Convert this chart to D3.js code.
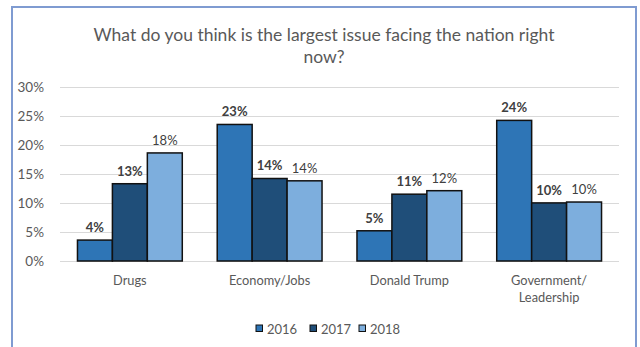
<!DOCTYPE html>
<html>
<head>
<meta charset="utf-8">
<script src="https://cdn.jsdelivr.net/npm/d3@7"></script>
<style>
  html, body { margin: 0; padding: 0; background: #fff; }
  svg { display: block; }
</style>
</head>
<body>
<div id="hook-chart"></div>
<script>
'use strict';

var categories = ['Drugs', 'Economy/Jobs', 'Donald Trump', 'Government/\nLeadership'];
var years = ['2016', '2017', '2018'];
var values2016 = [3.6, 23.5, 5.2, 24.2];
var values2017 = [13.3, 14.2, 11.5, 10.0];
var values2018 = [18.6, 13.8, 12.1, 10.15];
var labels2016 = ['4%', '23%', '5%', '24%'];
var labels2017 = ['13%', '14%', '11%', '10%'];
var labels2018 = ['18%', '14%', '12%', '10%'];
var yTicks = [0, 5, 10, 15, 20, 25, 30];

var options = {
  width: 640,
  height: 347,
  font: 'Lato, "Open Sans", sans-serif',
  colors: ['#2E75B6', '#1F4E79', '#7DAEDD'],
  textColor: '#595959'
};

var series = [
  { year: years[0], values: values2016, labels: labels2016, bold: true },
  { year: years[1], values: values2017, labels: labels2017, bold: true },
  { year: years[2], values: values2018, labels: labels2018, bold: false }
];

var margin = { top: 86.7, left: 60, right: 21, bottom: 86 };

var svg = d3.select('#hook-chart')
  .append('svg')
  .attr('width', options.width)
  .attr('height', options.height)
  .style('font-family', options.font);

// chart frame (bottom edge is outside the picture)
svg.append('path')
  .attr('d', 'M12,' + (options.height + 5) + 'V7H636V' + (options.height + 5))
  .style('fill', 'none')
  .style('stroke', '#7F9BD1')
  .style('stroke-width', 2);

var title = svg.append('text')
  .attr('text-anchor', 'middle')
  .style('font-size', '17.5px')
  .style('fill', options.textColor);
title.append('tspan').attr('x', 324).attr('y', 41).text('What do you think is the largest issue facing the nation right');
title.append('tspan').attr('x', 324).attr('y', 63).text('now?');

var x0 = d3.scaleBand()
  .domain(categories)
  .range([margin.left, options.width - margin.right])
  .paddingInner(0.25)
  .paddingOuter(0.125);

var x1 = d3.scaleBand()
  .domain(years)
  .range([0, x0.bandwidth()]);

var y = d3.scaleLinear()
  .domain([0, 30])
  .range([261, margin.top]);

// gridlines
svg.append('g')
  .selectAll('line')
  .data(yTicks)
  .enter()
  .append('line')
  .attr('x1', margin.left)
  .attr('x2', options.width - margin.right)
  .attr('y1', function(d) { return Math.round(y(d)) + 0.5; })
  .attr('y2', function(d) { return Math.round(y(d)) + 0.5; })
  .style('stroke', '#D9D9D9')
  .style('stroke-width', 1);

// y axis labels
var yAxis = svg.append('g')
  .attr('transform', 'translate(' + (margin.left - 13) + ',0)')
  .call(d3.axisLeft(y).tickValues(yTicks).tickSize(0).tickFormat(function(d) { return d + '%'; }));
yAxis.select('.domain').remove();
yAxis.selectAll('text')
  .style('font-family', options.font)
  .style('font-size', '13.5px')
  .style('fill', options.textColor);

// bars
var groups = svg.append('g')
  .selectAll('g')
  .data(series)
  .enter()
  .append('g')
  .style('fill', function(d, i) { return options.colors[i]; });

groups.selectAll('rect')
  .data(function(s) {
    return s.values.map(function(v, i) { return { cat: categories[i], year: s.year, v: v }; });
  })
  .enter()
  .append('rect')
  .attr('x', function(d) { return x0(d.cat) + x1(d.year); })
  .attr('y', function(d) { return y(d.v); })
  .attr('width', x1.bandwidth())
  .attr('height', function(d) { return y(0) - y(d.v); })
  .style('stroke', '#111')
  .style('stroke-width', 1.5);

// value labels
groups.selectAll('text')
  .data(function(s) {
    return s.values.map(function(v, i) {
      return { cat: categories[i], year: s.year, v: v, label: s.labels[i], bold: s.bold };
    });
  })
  .enter()
  .append('text')
  .attr('x', function(d) { return x0(d.cat) + x1(d.year) + x1.bandwidth() / 2; })
  .attr('y', function(d) { return y(d.v) - 8; })
  .attr('text-anchor', 'middle')
  .style('font-size', '13px')
  .style('font-weight', function(d) { return d.bold ? 'bold' : 'normal'; })
  .style('fill', '#404040')
  .text(function(d) { return d.label; });

// category labels
var catLabels = svg.append('g')
  .selectAll('text')
  .data(categories)
  .enter()
  .append('text')
  .attr('text-anchor', 'middle')
  .attr('y', 284.5)
  .style('font-size', '12.8px')
  .style('fill', options.textColor);

catLabels.each(function(d) {
  var lines = d.split('\n');
  var t = d3.select(this);
  lines.forEach(function(line, i) {
    t.append('tspan')
      .attr('x', x0(d) + x0.bandwidth() / 2)
      .attr('dy', i === 0 ? 0 : 17.5)
      .text(line);
  });
});

// legend
var legendX = [256, 310, 359];
var legend = svg.append('g')
  .selectAll('g')
  .data(years)
  .enter()
  .append('g')
  .attr('transform', function(d, i) { return 'translate(' + legendX[i] + ',325)'; });

legend.append('rect')
  .attr('width', 6.5)
  .attr('height', 6.5)
  .style('fill', function(d, i) { return options.colors[i]; })
  .style('stroke', '#111')
  .style('stroke-width', 1);

legend.append('text')
  .attr('x', 11)
  .attr('y', 8.5)
  .style('font-size', '13px')
  .style('fill', options.textColor)
  .text(function(d) { return d; });
</script>
</body>
</html>
